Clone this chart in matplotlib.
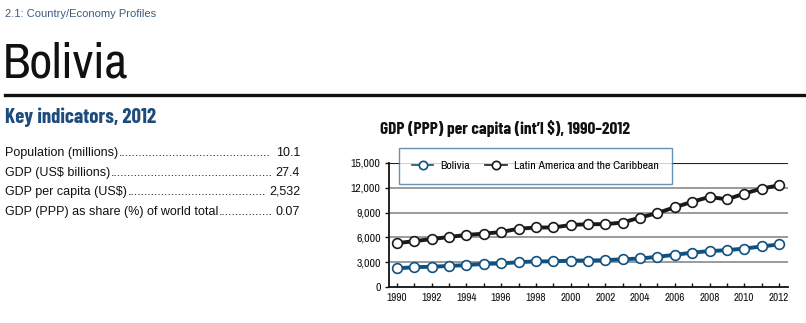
import matplotlib.pyplot as plt
from matplotlib.lines import Line2D

# GDP (PPP) per capita, int'l $
years = list(range(1990, 2013))
bolivia = [2250, 2400, 2450, 2550, 2650, 2800, 2850, 3000, 3100, 3100, 3200, 3200,
           3250, 3350, 3450, 3650, 3900, 4150, 4350, 4450, 4650, 4900, 5150]
latam = [5300, 5550, 5800, 6050, 6300, 6450, 6650, 7050, 7200, 7200, 7500, 7600,
         7600, 7800, 8400, 8950, 9650, 10300, 10900, 10600, 11300, 11900, 12300]

indicator_names = ["Population (millions)", "GDP (US$ billions)",
                   "GDP per capita (US$)", "GDP (PPP) as share (%) of world total"]
indicator_values = ["10.1", "27.4", "2,532", "0.07"]

yticks = [0, 3000, 6000, 9000, 12000, 15000]
xticks = list(range(1990, 2013, 2))

NARROW = ["Archivo Narrow", "Barlow Condensed", "Liberation Sans", "DejaVu Sans"]
NARROW_BOLD = ["Barlow Condensed", "Archivo Narrow", "Liberation Sans", "DejaVu Sans"]
SANS = ["Liberation Sans", "DejaVu Sans"]
BLUE = "#0f5282"
BLACK = "#1a1a1a"
HEAD_BLUE = "#1d4c7c"

W, H = 806, 323
fig = plt.figure(figsize=(W / 100, H / 100), dpi=100)


def fx(px):
    return px / W


def fy(py):
    return 1 - py / H


# page header
fig.text(fx(5), fy(14), "2.1: Country/Economy Profiles", family=SANS, fontsize=8,
         color="#3f5b7d", va="center", ha="left")
fig.text(fx(3), fy(77), "Bolivia", family=NARROW, fontsize=36, color="#111111",
         va="baseline", ha="left")
fig.add_artist(Line2D([fx(5), 1.0], [fy(94.5), fy(94.5)], color="#111111", lw=2.4))

fig.text(fx(5), fy(117), "Key indicators, 2012", family=NARROW_BOLD, fontsize=15,
         weight="bold", color=HEAD_BLUE, va="center", ha="left")

# indicator rows with dotted leaders
fig.canvas.draw()
renderer = fig.canvas.get_renderer()
dot = fig.text(0, 0, "..........", family=SANS, fontsize=9)
dot_w = dot.get_window_extent(renderer).width / 10
dot.remove()
row_y = [153, 173, 192, 212]
for name, val, py in zip(indicator_names, indicator_values, row_y):
    t1 = fig.text(fx(5), fy(py), name, family=SANS, fontsize=9, color="#111111",
                  va="center", ha="left")
    t2 = fig.text(fx(300), fy(py), val, family=SANS, fontsize=9, color="#111111",
                  va="center", ha="right")
    x0 = t1.get_window_extent(renderer).x1
    x1 = t2.get_window_extent(renderer).x0
    n = max(int((x1 - x0 - 3) / dot_w), 0)
    fig.text(x0 + 1, fy(py) * H, "." * n, family=SANS, fontsize=9, color="#111111",
             va="center", ha="left", transform=None)

# chart
fig.text(fx(380), fy(129), "GDP (PPP) per capita (int\u2019l $), 1990\u20132012",
         family=NARROW_BOLD, fontsize=12.5, weight="bold", color="#111111",
         va="center", ha="left")

ax = fig.add_axes([fx(389), fy(287), fx(788) - fx(389), (287 - 163) / H])
ax.set_xlim(1989.54, 2012.52)
ax.set_ylim(0, 15000)

for v in yticks[1:-1]:
    ax.axhline(v, color="#8a8a8a", lw=1.2, zorder=1)
ax.axhline(15000, color="#222222", lw=0.8, zorder=1)

ax.plot(years, bolivia, color=BLUE, lw=2.8, marker="o", ms=7, mfc="white",
        mec=BLUE, mew=1.2, zorder=3, label="Bolivia")
ax.plot(years, latam, color=BLACK, lw=2.8, marker="o", ms=7, mfc="white",
        mec=BLACK, mew=1.2, zorder=3, label="Latin America and the Caribbean")

for s in ["top", "right"]:
    ax.spines[s].set_visible(False)
ax.spines["left"].set_color("#111111")
ax.spines["bottom"].set_color("#111111")
ax.spines["left"].set_linewidth(1.3)
ax.spines["bottom"].set_linewidth(1.3)

ax.set_yticks(yticks)
ax.set_yticklabels([f"{v:,}" for v in yticks], family=NARROW, fontsize=8.5)
ax.set_xticks(years)
ax.set_xticklabels([str(y) if y in xticks else "" for y in years], family=NARROW,
                   fontsize=8)
ax.tick_params(axis="y", direction="out", length=3, width=1, pad=3, colors="#111111")
ax.tick_params(axis="x", direction="in", length=3, width=1, pad=4, colors="#111111")

leg = ax.legend(loc="upper left", bbox_to_anchor=(fx(399), fy(148)),
                bbox_transform=fig.transFigure, ncol=2, frameon=True, fancybox=False,
                prop={"family": NARROW, "size": 8.5}, handlelength=1.8,
                handletextpad=0.6, columnspacing=1.3, borderpad=1.1,
                borderaxespad=0)
leg.get_frame().set_edgecolor("#3f77a3")
leg.get_frame().set_linewidth(1.0)
leg.set_zorder(5)
for h in leg.legend_handles:
    h.set_linewidth(1.2)
    h.set_markersize(6)

fig.savefig("out.png", dpi=100)
